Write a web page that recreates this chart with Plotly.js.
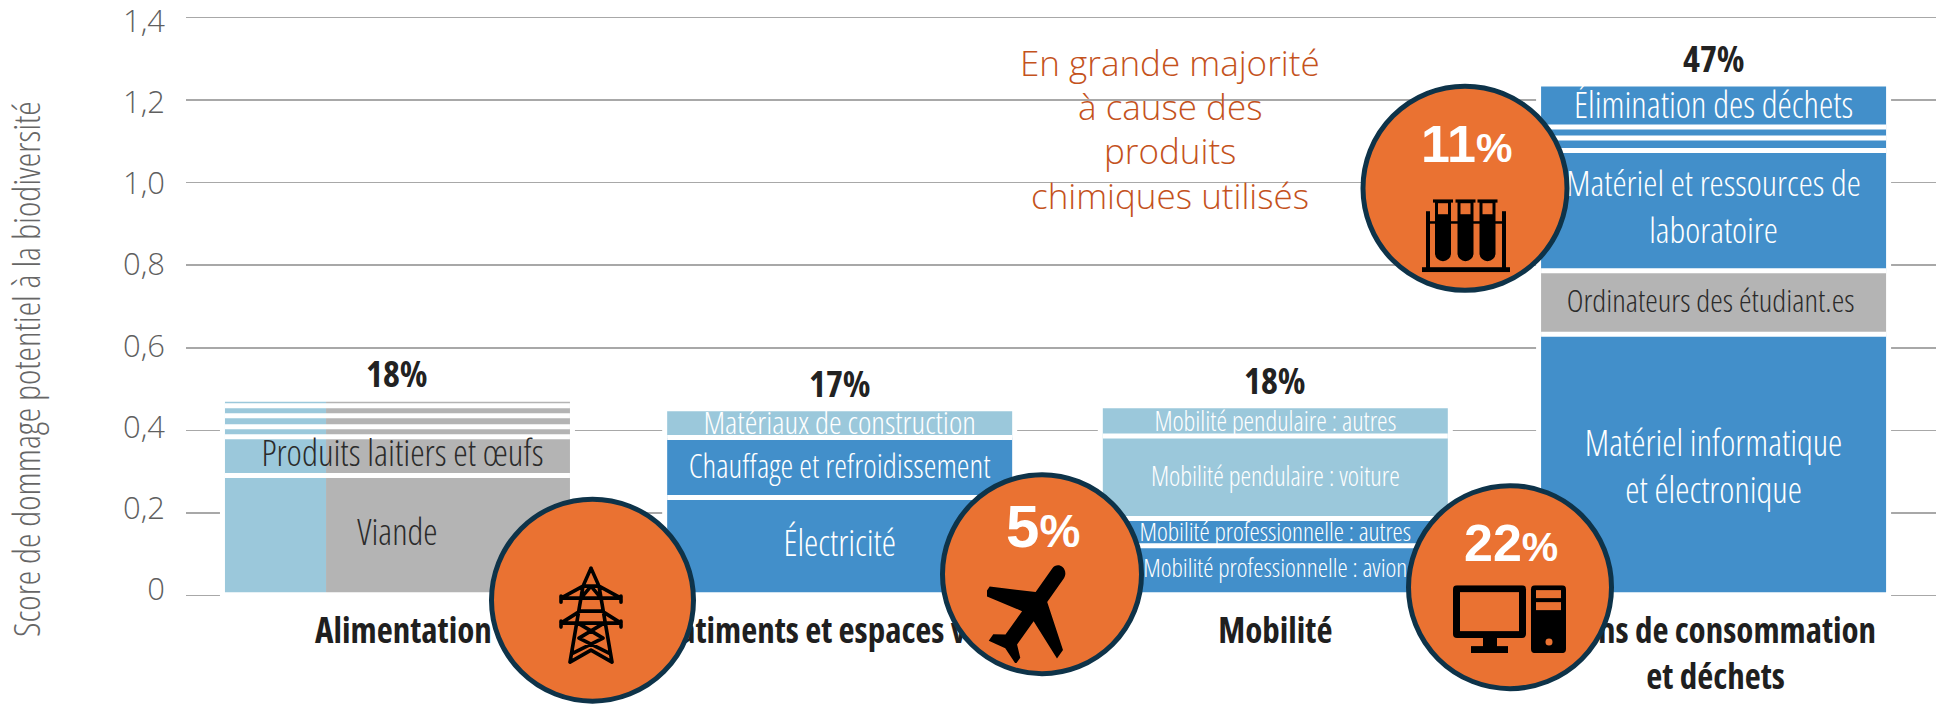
<!DOCTYPE html>
<html><head><meta charset="utf-8">
<script src="https://cdn.plot.ly/plotly-3.0.1.min.js"></script>
<style>html,body{margin:0;padding:0;background:#fff}#chart{width:1938px;height:707px}
#chart text[style*="NarrowCut"],#chart text[style*="NarrowCut"] tspan{font-stretch:75%}</style>
</head><body><div id="chart"></div>
<script>
// ---------- data ----------
const categories = ["Alimentation", "Bâtiments et espaces verts", "Mobilité", "Biens de consommation<br>et déchets"];
const shares = ["18%", "17%", "18%", "47%"];
const alimentationValues = [0.282, 0.094, 0.024, 0.027, 0.024, 0.010];
const alimentationLabels = ["Viande", "Produits laitiers et œufs", "", "", "", ""];
const batimentsValues = [0.229, 0.145, 0.064];
const batimentsLabels = ["Électricité", "Chauffage et refroidissement", "Matériaux de construction"];
const mobiliteValues = [0.112, 0.066, 0.200, 0.067];
const mobiliteLabels = ["Mobilité professionnelle : avion", "Mobilité professionnelle : autres", "Mobilité pendulaire : voiture", "Mobilité pendulaire : autres"];
const biensValues = [0.624, 0.154, 0.291, 0.030, 0.027, 0.098];
const biensLabels = ["Matériel informatique<br>et électronique", "Ordinateurs des étudiant.es", "Matériel et ressources de<br>laboratoire", "", "", "Élimination des déchets"];
const yTicks = [0, 0.2, 0.4, 0.6, 0.8, 1.0, 1.2, 1.4];
const yTickText = ["0", "0,2", "0,4", "0,6", "0,8", "1,0", "1,2", "1,4"];
const calloutText = ["En grande majorité", "à cause des", "produits", "chimiques utilisés"];

// ---------- styles ----------
const BLUE = "#428FCA", LIGHT = "#9BC8DB", GREY = "#B4B4B4", ORANGE = "#EA7232";
const batimentsColors = [BLUE, BLUE, LIGHT];
const mobiliteColors = [BLUE, BLUE, LIGHT, LIGHT];
const biensColors = [BLUE, GREY, BLUE, BLUE, BLUE, BLUE];
const labelSizesA = [36, 36.5, 0, 0, 0, 0], labelSizesB = [36, 32.2, 32], labelSizesC = [25.8, 25.8, 26.8, 26.7], labelSizesD = [36, 31.8, 35.8, 0, 0, 36.2];
const NARROW = "'Open Sans',NarrowCut,sans-serif";
// small pixel nudges of the bar labels: [dx, dy]
const labelNudge = {"Produits laitiers et œufs": [5, 1], "Matériel informatique<br>et électronique": [0, 7], "Ordinateurs des étudiant.es": [-3, 2], "Matériel et ressources de<br>laboratoire": [0, 0]};
// small pixel nudges of the category labels
const tickNudge = [6, 0, 0, 2];

// ---------- geometry ----------
const W = 1938, H = 707, L = 186, R = 1936, T = 8.73, B = 603.87;
const xMin = -0.482, xMax = 3.507, yMin = -0.02, yMax = 1.42;
const pxX = p => xMin + (p - L) / (R - L) * (xMax - xMin);
const pxY = p => yMax - (p - T) / (B - T) * (yMax - yMin);
const xPerPx = (xMax - xMin) / (R - L), yPerPx = (yMax - yMin) / (B - T);
const centers = [0, 1.008, 2.001, 3.0];
const barW = 345 * xPerPx;
const haloW = 355 * xPerPx;
const baseOffset = 0.0087;
const blueShare = 0.293;

// segments
const seg = {x:[], y:[], base:[], width:[], color:[]};
const sepX = [], sepY = [], lab = {x:[], y:[], text:[], size:[], color:[]}, totals = [];
function addStack(i, values, labels, colors, sizes) {
  let b = baseOffset;
  values.forEach((v, k) => {
    if (colors) {
      seg.x.push(centers[i]); seg.y.push(v); seg.base.push(b); seg.width.push(barW); seg.color.push(colors[k]);
    } else {
      const bw = barW * blueShare, gw = barW - bw;
      seg.x.push(centers[i] - barW / 2 + bw / 2); seg.y.push(v); seg.base.push(b); seg.width.push(bw); seg.color.push(LIGHT);
      seg.x.push(centers[i] + barW / 2 - gw / 2); seg.y.push(v); seg.base.push(b); seg.width.push(gw); seg.color.push(GREY);
    }
    if (labels[k]) {
      const n = labelNudge[labels[k]] || [0, 2];
      lab.x.push(centers[i] + n[0] * xPerPx); lab.y.push(b + v / 2 - n[1] * yPerPx); lab.text.push(labels[k]); lab.size.push(sizes[k]);
      lab.color.push((colors && colors[k] !== GREY) ? "#fff" : "#2b2b2b");
    }
    b += v;
    if (k < values.length - 1) { sepX.push(centers[i] - barW / 2, centers[i] + barW / 2, null); sepY.push(b, b, null); }
  });
  totals[i] = b;
}
addStack(0, alimentationValues, alimentationLabels, null, labelSizesA);
addStack(1, batimentsValues, batimentsLabels, batimentsColors, labelSizesB);
addStack(2, mobiliteValues, mobiliteLabels, mobiliteColors, labelSizesC);
addStack(3, biensValues, biensLabels, biensColors, labelSizesD);

// callout discs (pixel centres on the page)
const discs = [
  {cx: 592.5, cy: 600, d: 202, big: "", small: ""},
  {cx: 1042, cy: 574, d: 199, big: "5", small: "%", ty: 526, fs: 60, fp: 46},
  {cx: 1510, cy: 587, d: 203, big: "22", small: "%", ty: 543, fs: 52, fp: 41},
  {cx: 1465, cy: 188, d: 204, big: "11", small: "%", ty: 144, fs: 52, fp: 41}
];
const withText = discs.filter(d => d.big);

// icons
const pylon = `<svg xmlns="http://www.w3.org/2000/svg" width="64" height="99" viewBox="0 0 64 99"><g fill="none" stroke="#000" stroke-width="3.6" stroke-linecap="round" stroke-linejoin="round"><path d="M32 2L24 20L11 96M32 2L40 20L53 96M24 20H40M2 32L24 20M62 32L40 20M2 32H62M2 30V36M62 30V36M22 32L32 20M42 32L32 20M2 57L21 45M62 57L43 45M21 45H43M2 57H62M2 55V61M62 55V61M19 57L44 72L14 87M45 57L20 72L50 87M11 96L32 84L53 96"/></g></svg>`;
const plane = `<svg xmlns="http://www.w3.org/2000/svg" width="94" height="104" viewBox="0 0 24 24" preserveAspectRatio="none"><g transform="rotate(38 12 12) translate(-2.9 -3) scale(1.25)"><path d="M21 16v-2l-8-5V3.5c0-.83-.67-1.5-1.5-1.5S10 2.67 10 3.5V9l-8 5v2l8-2.5V19l-2 1.5V22l3.5-1 3.5 1v-1.5L13 19v-5.5l8 2.5z" fill="#000"/></g></svg>`;
const computer = `<svg xmlns="http://www.w3.org/2000/svg" width="113" height="68" viewBox="0 0 113 68"><rect x="0" y="0" width="73" height="53" rx="4" fill="#000"/><rect x="7" y="7" width="59" height="39" fill="${ORANGE}"/><rect x="30" y="52" width="14" height="10" fill="#000"/><rect x="18" y="61" width="37" height="7" fill="#000"/><rect x="78" y="0" width="35" height="68" rx="4" fill="#000"/><rect x="83" y="5" width="25" height="8" fill="${ORANGE}"/><rect x="83" y="17" width="25" height="8" fill="${ORANGE}"/><circle cx="96" cy="57" r="3.5" fill="${ORANGE}"/></svg>`;
const tube = c => `<path d="M${c-8} 2V54a8 8 0 0 0 16 0V2z" fill="#000"/><rect x="${c-10}" y="0" width="20" height="3.4" fill="#000"/><rect x="${c-5}" y="4" width="10" height="11" fill="${ORANGE}"/>`;
const tubes = `<svg xmlns="http://www.w3.org/2000/svg" width="88" height="73" viewBox="0 0 88 73"><rect x="0" y="68" width="88" height="5" fill="#000"/><rect x="4" y="12" width="4" height="57" fill="#000"/><rect x="80" y="12" width="4" height="57" fill="#000"/><rect x="4" y="22" width="80" height="2.5" fill="#000"/>${tube(21)}${tube(43.5)}${tube(65.5)}</svg>`;
const icons = [
  {svg: pylon, x: 559, y: 566, w: 64, h: 99},
  {svg: plane, x: 987, y: 559, w: 94, h: 104},
  {svg: computer, x: 1453, y: 585, w: 113, h: 68},
  {svg: tubes, x: 1422, y: 199, w: 88, h: 73}
];
const plotW = R - L, plotH = B - T;
const images = icons.map(ic => ({
  source: "data:image/svg+xml;charset=utf-8," + encodeURIComponent(ic.svg),
  xref: "paper", yref: "paper", x: (ic.x - L) / plotW, y: 1 - (ic.y - T) / plotH,
  sizex: ic.w / plotW, sizey: ic.h / plotH, xanchor: "left", yanchor: "top", sizing: "stretch", layer: "above"
}));

// ---------- traces ----------
const traces = [
  {type: "bar", x: centers, y: totals.map(t => t + 0.05), base: totals.map(() => -0.03), width: centers.map(() => haloW),
   marker: {color: "#fff"}, cliponaxis: false, hoverinfo: "skip", showlegend: false},
  {type: "bar", x: seg.x, y: seg.y, base: seg.base, width: seg.width, marker: {color: seg.color, line: {width: 0}},
   hoverinfo: "skip", showlegend: false},
  {type: "scatter", mode: "lines", x: sepX, y: sepY, line: {color: "#fff", width: 5}, hoverinfo: "skip", showlegend: false, connectgaps: false},
  {type: "scatter", mode: "text", x: lab.x, y: lab.y, text: lab.text, textposition: "middle center",
   textfont: {family: NARROW, size: lab.size, weight: 300, color: lab.color}, hoverinfo: "skip", showlegend: false},
  {type: "scatter", mode: "markers", x: discs.map(d => pxX(d.cx)), y: discs.map(d => pxY(d.cy)), cliponaxis: false,
   marker: {size: discs.map(d => d.d), color: ORANGE, opacity: 1, line: {color: "#0E3349", width: 5}}, hoverinfo: "skip", showlegend: false},
  {type: "scatter", mode: "markers", x: [0], y: [0], yaxis: "y2", marker: {size: 1, opacity: 0}, hoverinfo: "skip", showlegend: false}
];

// ---------- annotations ----------
const annotations = [];
categories.forEach((c, i) => annotations.push({
  xref: "x", yref: "y", x: centers[i], y: totals[i], yshift: 28, yanchor: "middle", showarrow: false, text: "<b>" + shares[i] + "</b>",
  font: {family: NARROW, size: 36, color: "#222"}
}));
calloutText.forEach((t, i) => annotations.push({
  xref: "paper", yref: "paper", x: (1170 - L) / plotW, y: 1 - (62 + i * 44.3 - T) / plotH, xanchor: "center", yanchor: "middle",
  showarrow: false, text: t, font: {family: "'Open Sans',sans-serif", size: 35, weight: 350, color: "#C4521C"}
}));
withText.forEach(d => annotations.push({
  xref: "paper", yref: "paper", x: (d.cx + 1 - L) / plotW, y: 1 - (d.ty - T) / plotH, xanchor: "center", yanchor: "middle", showarrow: false,
  text: `<b>${d.big}<span style="font-size:${d.fp}px">${d.small}</span></b>`,
  font: {family: "'Liberation Sans',Arial,sans-serif", size: d.fs, color: "#fff"}
}));
annotations.push({
  xref: "paper", yref: "paper", x: (26 - L) / plotW, y: 1 - (369 - T) / plotH, xanchor: "center", yanchor: "middle", textangle: -90,
  showarrow: false, text: "Score de dommage potentiel à la biodiversité", font: {family: NARROW, size: 36.5, weight: 300, color: "#666"}
});

const layout = {
  width: W, height: H, margin: {l: L, r: W - R, t: T, b: H - B, pad: 0},
  paper_bgcolor: "#fff", plot_bgcolor: "#fff", barmode: "overlay", showlegend: false, hovermode: false,
  xaxis: {range: [xMin, xMax], tickmode: "array", tickvals: centers.map((c, i) => c + tickNudge[i] * xPerPx), ticktext: categories.map(c => "<b>" + c + "</b>"), ticks: "", showgrid: false,
    zeroline: false, showline: false, layer: "below traces", ticklabelstandoff: 3,
    tickfont: {family: NARROW, size: 35, color: "#1f1f1f"}},
  yaxis: {range: [yMin, yMax], tickmode: "array", tickvals: yTicks, showticklabels: false, ticks: "", showgrid: true,
    gridcolor: "#a8a8a8", gridwidth: 1.5, zeroline: false, showline: false},
  yaxis2: {overlaying: "y", side: "left", range: [-0.03665, 1.43024], tickmode: "array", tickvals: yTicks, ticktext: yTickText,
    showgrid: false, zeroline: false, showline: false, ticks: "", ticklabelstandoff: 20, ticklabeloverflow: "allow",
    tickfont: {family: "'Open Sans',sans-serif", size: 31, weight: 300, color: "#5f5f5f"}},
  annotations, images
};
Plotly.newPlot("chart", traces, layout, {displayModeBar: false, staticPlot: true});
</script></body></html>
